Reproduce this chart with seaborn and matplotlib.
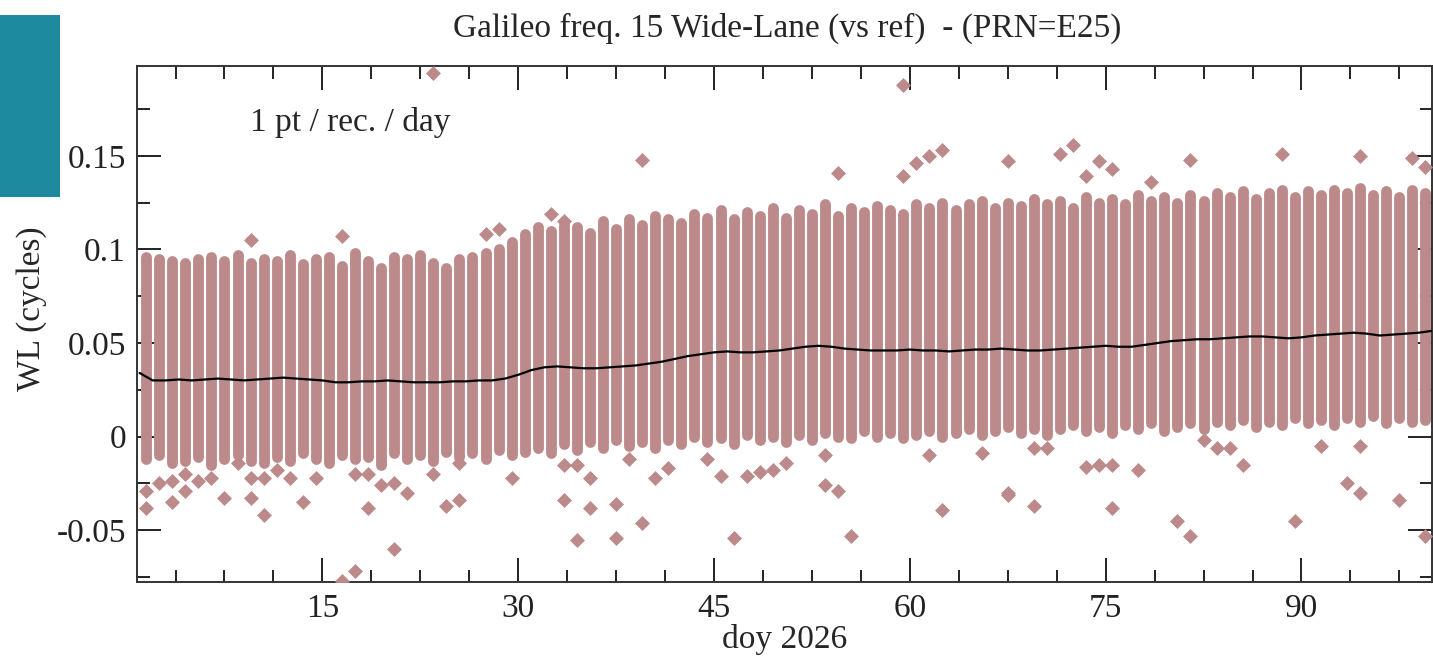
import matplotlib
matplotlib.use("Agg")
import matplotlib.pyplot as plt
from matplotlib.patches import Rectangle
from matplotlib.ticker import MultipleLocator, FuncFormatter
import numpy as np
import pandas as pd
import seaborn as sns

# one column of receivers per day of year (plotted at mid-day)
days = list(range(1, 100))

col_top = [
    0.096, 0.095, 0.094, 0.093, 0.095, 0.096, 0.094, 0.097, 0.093, 0.095,
    0.094, 0.097, 0.092, 0.095, 0.096, 0.091, 0.098, 0.094, 0.090, 0.096,
    0.095, 0.097, 0.093, 0.090, 0.095, 0.096, 0.098, 0.100, 0.104, 0.108,
    0.112, 0.110, 0.113, 0.112, 0.109, 0.115, 0.111, 0.116, 0.113, 0.118,
    0.116, 0.114, 0.119, 0.117, 0.121, 0.116, 0.120, 0.118, 0.122, 0.117,
    0.121, 0.119, 0.124, 0.118, 0.122, 0.120, 0.123, 0.121, 0.119, 0.124,
    0.122, 0.125, 0.121, 0.124, 0.126, 0.122, 0.125, 0.123, 0.127, 0.124,
    0.126, 0.122, 0.128, 0.125, 0.127, 0.124, 0.129, 0.126, 0.128, 0.125,
    0.129, 0.126, 0.130, 0.128, 0.131, 0.127, 0.130, 0.132, 0.128, 0.131,
    0.129, 0.132, 0.130, 0.133, 0.129, 0.131, 0.128, 0.132, 0.130,
]

col_bottom = [
    -0.012, -0.010, -0.014, -0.013, -0.011, -0.015, -0.012, -0.010, -0.013, -0.014,
    -0.011, -0.013, -0.009, -0.012, -0.014, -0.010, -0.012, -0.011, -0.015, -0.009,
    -0.012, -0.010, -0.013, -0.008, -0.011, -0.009, -0.012, -0.007, -0.010, -0.008,
    -0.006, -0.009, -0.004, -0.007, -0.003, -0.006, -0.002, -0.005, -0.003, -0.006,
    -0.002, -0.004, 0.000, -0.003, -0.001, -0.004, 0.001, -0.002, 0.000, -0.003,
    0.001, -0.002, 0.002, 0.000, -0.001, 0.003, 0.000, 0.002, -0.001, 0.001,
    0.003, 0.000, 0.002, 0.004, 0.001, 0.003, 0.005, 0.002, 0.004, 0.001,
    0.004, 0.006, 0.003, 0.005, 0.002, 0.006, 0.004, 0.007, 0.003, 0.005,
    0.007, 0.004, 0.008, 0.006, 0.009, 0.005, 0.008, 0.006, 0.010, 0.007,
    0.009, 0.006, 0.010, 0.008, 0.011, 0.007, 0.010, 0.008, 0.009,
]

# isolated points outside the dense columns
out_x = [
    23.5, 59.5, 39.5, 62.5, 61.5, 60.5, 54.5, 59.5, 67.5, 71.5, 72.5, 73.5,
    74.5, 75.5, 78.5, 81.5, 88.5, 94.5, 98.5, 99.5, 16.5, 9.5, 27.5, 28.5,
    32.5, 33.5,
    1.5, 1.5, 2.5, 3.5, 3.5, 4.5, 4.5, 5.5, 6.5, 7.5, 8.5, 9.5, 9.5, 10.5,
    10.5, 11.5, 12.5, 13.5, 14.5, 16.5, 17.5, 17.5, 18.5, 18.5, 19.5, 20.5,
    20.5, 21.5, 23.5, 24.5, 25.5, 25.5, 29.5, 33.5, 33.5,
    34.5, 34.5, 35.5, 35.5, 37.5, 37.5, 38.5, 39.5, 40.5, 41.5, 44.5, 45.5,
    46.5, 47.5, 48.5, 49.5, 50.5, 53.5, 53.5, 54.5, 55.5, 61.5, 62.5, 65.5,
    67.5, 67.5, 69.5, 69.5, 70.5, 73.5, 74.5, 75.5, 75.5, 77.5, 80.5, 81.5,
    82.5, 83.5, 84.5, 85.5, 89.5, 91.5, 93.5, 94.5, 94.5, 97.5, 99.5,
]
out_y = [
    0.194, 0.188, 0.148, 0.153, 0.150, 0.146, 0.141, 0.139, 0.147, 0.151, 0.156, 0.139,
    0.147, 0.143, 0.136, 0.148, 0.151, 0.150, 0.149, 0.144, 0.107, 0.105, 0.108, 0.111,
    0.119, 0.115,
    -0.038, -0.029, -0.025, -0.024, -0.035, -0.020, -0.029, -0.024, -0.022, -0.033, -0.014, -0.022, -0.033, -0.042,
    -0.022, -0.018, -0.022, -0.035, -0.022, -0.077, -0.072, -0.020, -0.038, -0.020, -0.026, -0.060,
    -0.025, -0.030, -0.020, -0.037, -0.034, -0.014, -0.022, -0.034, -0.015,
    -0.055, -0.015, -0.022, -0.038, -0.036, -0.054, -0.012, -0.046, -0.022, -0.017, -0.012, -0.021,
    -0.054, -0.021, -0.019, -0.018, -0.014, -0.026, -0.010, -0.029, -0.053, -0.010, -0.039, -0.009,
    -0.030, -0.031, -0.037, -0.006, -0.006, -0.016, -0.015, -0.015, -0.038, -0.018, -0.045, -0.053,
    -0.002, -0.006, -0.006, -0.015, -0.045, -0.005, -0.025, -0.030, -0.005, -0.034, -0.053,
]

# daily mean over all receivers
mean_day = list(range(1, 101))
mean_wl = [
    0.034, 0.030, 0.030, 0.0305, 0.030, 0.0305, 0.031, 0.0305, 0.030, 0.0305,
    0.031, 0.0315, 0.031, 0.0305, 0.030, 0.029, 0.029, 0.0295, 0.0295, 0.030,
    0.0295, 0.029, 0.029, 0.029, 0.0295, 0.0295, 0.030, 0.030, 0.031, 0.033,
    0.0355, 0.037, 0.0375, 0.037, 0.0365, 0.0365, 0.037, 0.0375, 0.038, 0.039,
    0.040, 0.0415, 0.043, 0.044, 0.045, 0.0455, 0.045, 0.045, 0.0455, 0.046,
    0.047, 0.048, 0.0485, 0.048, 0.047, 0.0465, 0.046, 0.046, 0.046, 0.0465,
    0.046, 0.046, 0.0455, 0.046, 0.0465, 0.0465, 0.047, 0.0465, 0.046, 0.046,
    0.0465, 0.047, 0.0475, 0.048, 0.0485, 0.048, 0.048, 0.049, 0.050, 0.051,
    0.0515, 0.052, 0.052, 0.0525, 0.053, 0.0535, 0.0535, 0.053, 0.0525, 0.053,
    0.054, 0.0545, 0.055, 0.0555, 0.055, 0.054, 0.0545, 0.055, 0.0555, 0.0565,
]

DOT = "#bc8a8a"
FS = 24

sns.set_theme(style="ticks")
plt.rcParams["font.family"] = ["Liberation Serif", "DejaVu Serif"]

fig = plt.figure(figsize=(14.33, 6.59), dpi=100)
ax = fig.add_axes([137 / 1433, 1 - 582 / 659, 1295 / 1433, 516 / 659])

cols = pd.DataFrame({"x": np.array(days) + 0.5, "lo": col_bottom, "hi": col_top})
ax.vlines(cols["x"], cols["lo"], cols["hi"], colors=DOT, linewidth=7.8,
          capstyle="round", zorder=2)

outliers = pd.DataFrame({"x": out_x, "y": out_y})
sns.scatterplot(data=outliers, x="x", y="y", ax=ax, marker="D", s=58,
                color=DOT, linewidth=0, zorder=3)

means = pd.DataFrame({"x": mean_day, "y": mean_wl})
sns.lineplot(data=means, x="x", y="y", ax=ax, color="black", linewidth=1.6,
             zorder=4)

ax.set_xlim(0.8, 100)
ax.set_ylim(-0.0777, 0.198)

ax.xaxis.set_major_locator(MultipleLocator(15))
ax.xaxis.set_minor_locator(MultipleLocator(3.75))
ax.yaxis.set_major_locator(MultipleLocator(0.05))
ax.yaxis.set_minor_locator(MultipleLocator(0.025))
ax.yaxis.set_major_formatter(FuncFormatter(lambda v, p: "%g" % round(v, 3)))

ax.tick_params(which="both", direction="in", top=True, right=True,
               labelsize=FS, colors="#222222", width=1.4, pad=8)
ax.tick_params(which="major", length=17)
ax.tick_params(which="minor", length=9)
for sp in ax.spines.values():
    sp.set_linewidth(1.4)
    sp.set_color("#333333")

ax.set_xlabel("doy 2026", fontsize=FS, labelpad=0)
ax.set_ylabel("WL (cycles)", fontsize=FS)
ax.yaxis.set_label_coords(-0.0695, 0.53)
ax.text(0.087, 0.891, "1 pt / rec. / day", transform=ax.transAxes,
        fontsize=FS, va="center", ha="left")

fig.text(0.549, 1 - 28 / 659, "Galileo freq. 15 Wide-Lane (vs ref)  - (PRN=E25)",
         fontsize=FS, ha="center", va="center")

# teal block in the top-left corner of the reference
fig.patches.append(Rectangle((0, 1 - 197 / 659), 60 / 1433, 182 / 659,
                             transform=fig.transFigure, facecolor="#1e8aa0",
                             edgecolor="none"))

fig.savefig("out.png", dpi=100)
